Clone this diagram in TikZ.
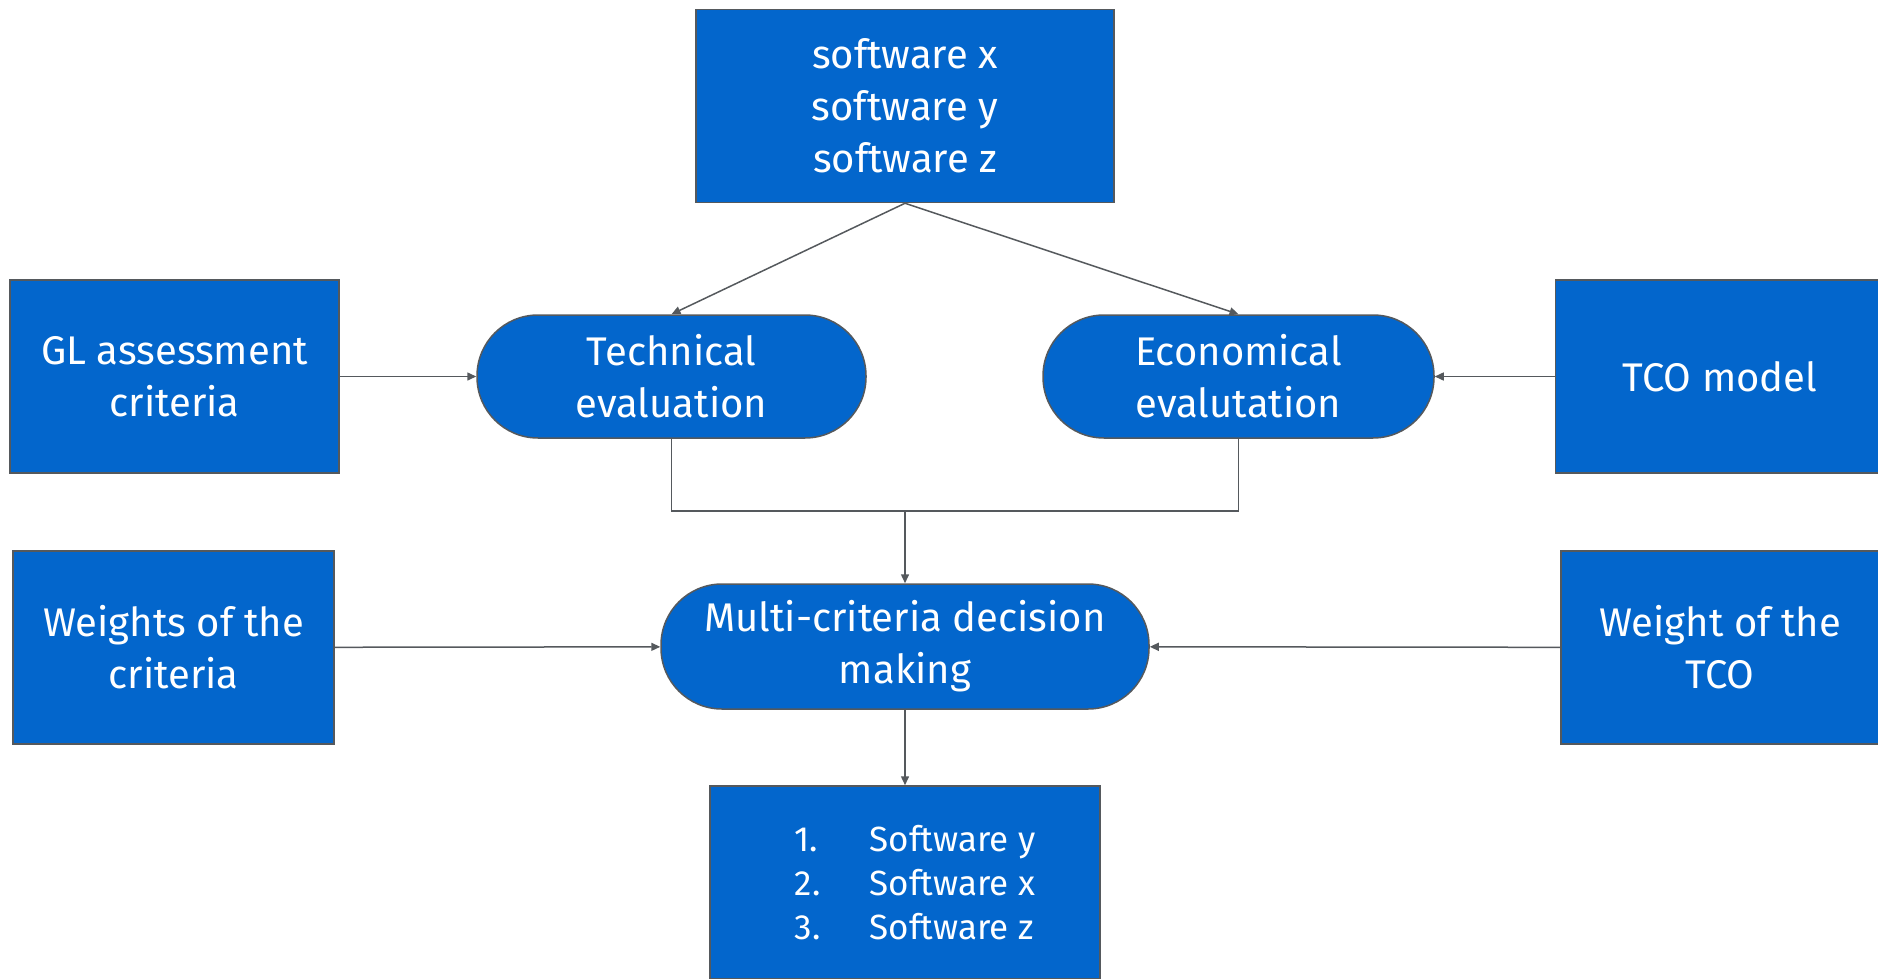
\documentclass[tikz,border=0pt]{standalone}
\usepackage{fontspec}
\setmainfont{Fira Sans}
\usepackage{xcolor}
\usetikzlibrary{positioning}
\usetikzlibrary{arrows.meta}
\definecolor{boxblue}{HTML}{0366CC}
\definecolor{linegray}{HTML}{55595D}
\tikzset{
    mybox/.style = {rectangle, draw=linegray, line width=1.5pt, fill=boxblue, text=white, align=center, font=\fontsize{40}{52}\selectfont, minimum height=193pt},
    mypill/.style = {rectangle, rounded corners=61pt, draw=linegray, line width=1.5pt, fill=boxblue, text=white, align=center, font=\fontsize{40}{52}\selectfont, minimum height=123pt},
    edgea/.style = {-{Triangle[length=9pt,width=8pt]}, line width=1.5pt, linegray},
    edgen/.style = {-, line width=1.5pt, linegray},
}
\newcommand{\rankitem}[2]{\makebox[95pt][l]{\hspace{20pt}#1}#2}
\begin{document}
\begin{tikzpicture}[x=1pt, y=-1pt]
\useasboundingbox (0,0) rectangle (1878,979);
\node[mybox, minimum width=418pt] at (905,106) (sw) {software x\\software y\\software z};
\node[mybox, minimum width=329pt] at (174.5,376.5) (gl) {GL assessment\\criteria};
\node[mypill, minimum width=389pt] at (671.5,376.5) (tech) {Technical\\evaluation};
\node[mypill, minimum width=391pt] at (1238.5,376.5) (econ) {Economical\\evalutation};
\node[mybox, minimum width=329pt] at (1720,376.5) (tco) {TCO model};
\node[mybox, minimum width=321pt] at (173.5,647.5) (wts) {Weights of the\\criteria};
\node[mypill, minimum width=488pt, minimum height=125pt] at (905,646.5) (mcdm) {Multi-criteria decision\\making};
\node[mybox, minimum width=318pt] at (1720,647.5) (wtco) {Weight of the\\TCO};
\node[mybox, minimum width=390pt, align=left, font=\fontsize{35}{44}\selectfont] at (905,882.5) (res)
    {\rankitem{1.}{Software y}\\\rankitem{2.}{Software x}\\\rankitem{3.}{Software z}};
\coordinate (join) at (905,511);
%
\draw[edgea] (sw.south) -- (tech.north);
\draw[edgea] (sw.south) -- (econ.north);
\draw[edgea] (gl) -- (tech);
\draw[edgea] (tco) -- (econ);
%
\draw[edgen] (tech.south) |- (join);
\draw[edgen] (econ.south) |- (join);
\draw[edgea] (join) -- (mcdm.north);
%
\draw[edgea] (wts) -- (mcdm);
\draw[edgea] (wtco) -- (mcdm);
\draw[edgea] (mcdm) -- (res);
\end{tikzpicture}
\end{document}
